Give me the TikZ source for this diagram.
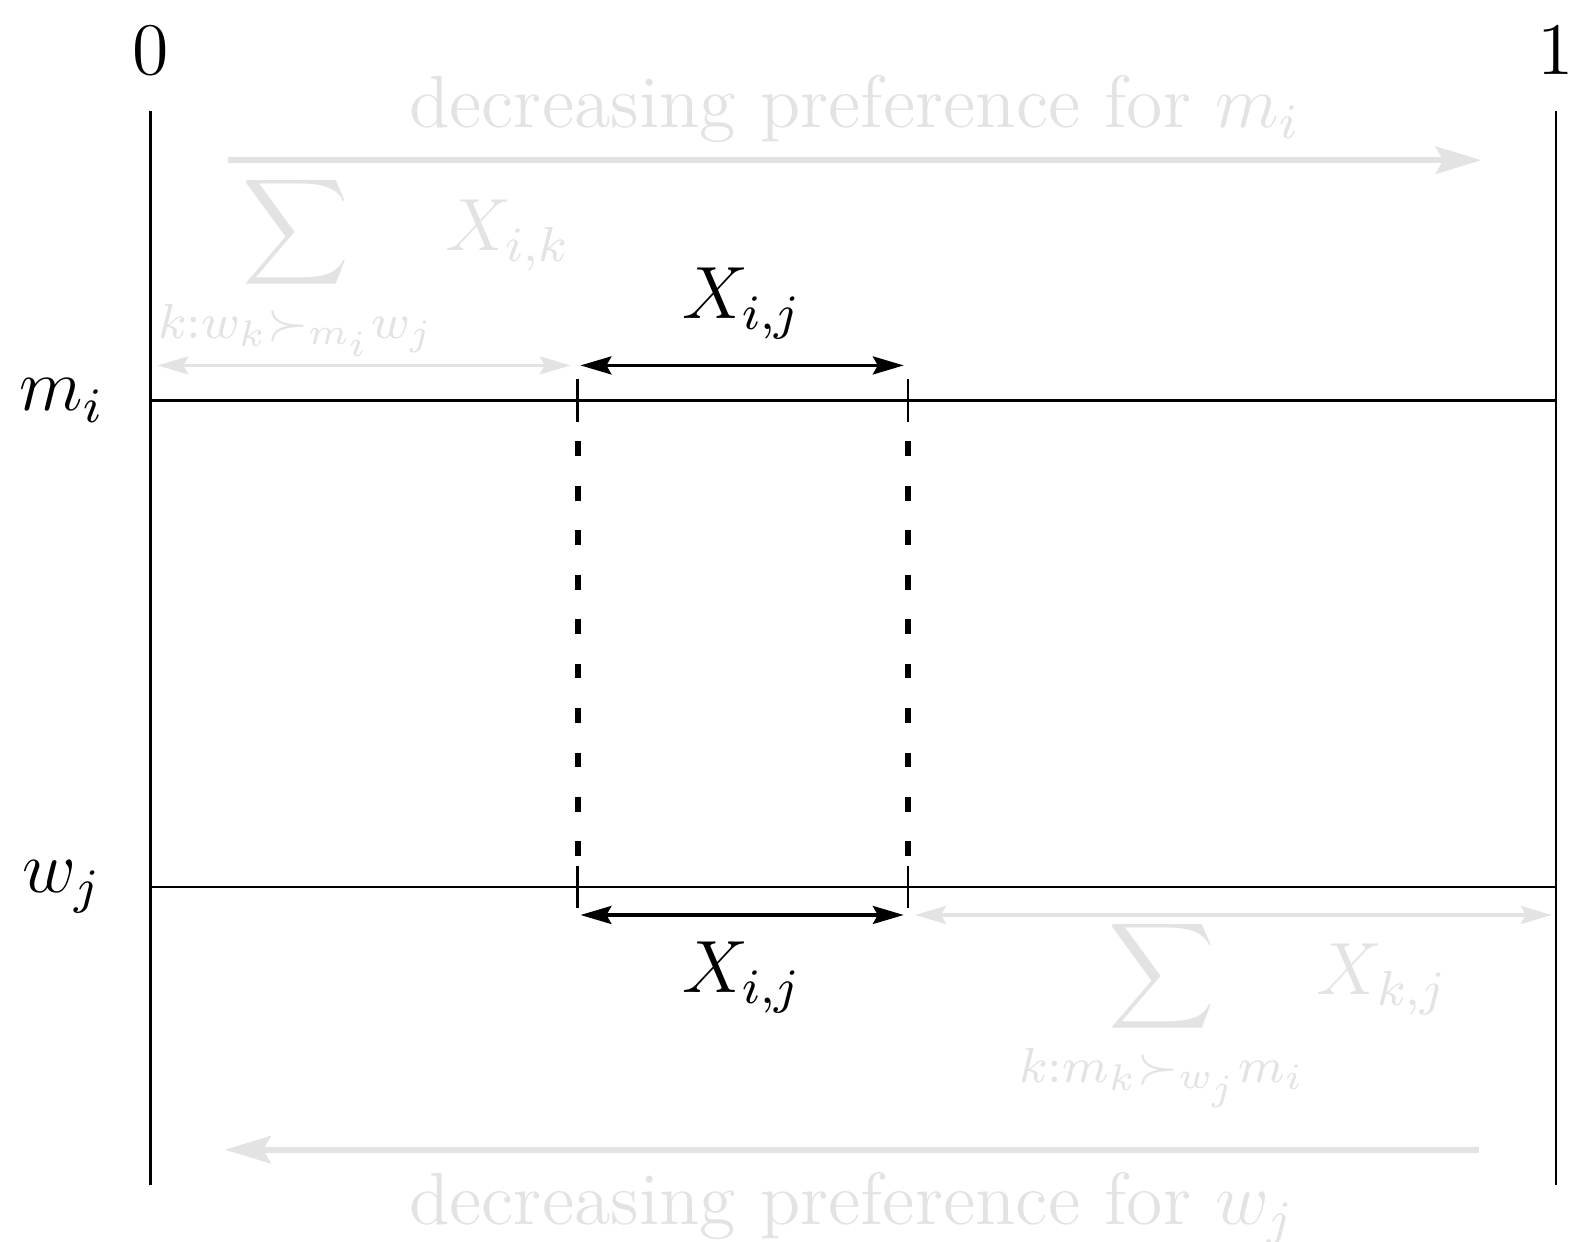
\documentclass[tikz,border=0pt,12pt]{standalone}
\definecolor{lightgrey}{gray}{0.89}
\usepackage{tikz}
\usetikzlibrary{
    arrows.meta,
    positioning,
    calc
}
\usepackage{xcolor}
\usepackage{amsmath}
\usepackage{amssymb}
\tikzstyle{axis} = [
    draw=black
]
\tikzstyle{tickmark} = [
    draw=black
]
\tikzstyle{gap} = [
    line width=1pt,
    dash pattern=on 2.4pt off 4.8pt,
    draw=black
]
\tikzstyle{arrow} = [
    <->,
    >={Stealth[length=5pt, width=2.9pt, inset=0.8pt]},
    semithick,
    color=black
]
\tikzstyle{faint} = [
    <->,
    >={Stealth[length=5pt, width=2.9pt, inset=0.8pt]},
    semithick,
    color=lightgrey
]
\tikzstyle{pref} = [
    ->,
    >={Stealth[length=7.4pt, width=4.4pt, inset=1.2pt]},
    line width=1pt,
    color=lightgrey
]
\begin{document}
\begin{tikzpicture}[x=0.8cm, y=0.8cm]
    \useasboundingbox (-1.07,-2.52) rectangle (10.1,6.31);
    % the two agents and the unit interval
    \coordinate (top0) at (0,5.52);
    \coordinate (bot0) at (0,-2.12);
    \coordinate (top1) at (10,5.52);
    \coordinate (bot1) at (10,-2.12);
    \coordinate (m0) at (0,3.46);
    \coordinate (m1) at (10,3.46);
    \coordinate (w0) at (0,0);
    \coordinate (w1) at (10,0);
    \draw[axis] (top0) -- (bot0);
    \draw[axis] (top1) -- (bot1);
    \draw[axis] (m0) -- (m1);
    \draw[axis] (w0) -- (w1);
    \node (zero) at (0,5.95) {$0$};
    \node (one) at (10,5.95) {$1$};
    \node (mi) at (-0.63,3.46) {$m_i$};
    \node (wj) at (-0.63,0) {$w_j$};

    % the interval of X_{i,j}
    \foreach \x/\n in {3.04/a, 5.39/b} {
        \coordinate (m\n) at (\x,3.46);
        \coordinate (w\n) at (\x,0);
        \draw[tickmark] ($(m\n)+(0,0.15)$) -- ($(m\n)-(0,0.15)$);
        \draw[tickmark] ($(w\n)+(0,0.15)$) -- ($(w\n)-(0,0.15)$);
        \draw[gap] ($(m\n)-(0,0.29)$) -- ($(w\n)+(0,0.21)$);
    }
    \draw[arrow] ($(ma)+(0.02,0.25)$) -- node[above] (xtop) {$X_{i,j}$} ($(mb)+(-0.03,0.25)$);
    \draw[arrow] ($(wa)+(0.02,-0.2)$) -- node[below] (xbot) {$X_{i,j}$} ($(wb)+(-0.03,-0.2)$);

    % what comes before it
    \draw[faint] ($(m0)+(0.05,0.25)$) -- node[above, inner sep=0pt] (summ) {$\displaystyle\sum_{k:w_k\succ_{m_i}w_j} X_{i,k}$} ($(ma)+(-0.05,0.25)$);
    \draw[faint] ($(wb)+(0.05,-0.2)$) -- node[below, inner sep=0pt] (sumw) {$\displaystyle\sum_{k:m_k\succ_{w_j}m_i} X_{k,j}$} ($(w1)+(-0.03,-0.2)$);

    % preference directions
    \coordinate (pm0) at (0.55,5.17);
    \coordinate (pm1) at (9.47,5.17);
    \coordinate (pw0) at (0.53,-1.87);
    \coordinate (pw1) at (9.45,-1.87);
    \draw[pref] (pm0) -- node[above=-1.6pt] (prefm) {decreasing preference for $m_i$} (pm1);
    \draw[pref] (pw1) -- node[below=-0.8pt] (prefw) {decreasing preference for $w_j$} (pw0);
\end{tikzpicture}
\end{document}
